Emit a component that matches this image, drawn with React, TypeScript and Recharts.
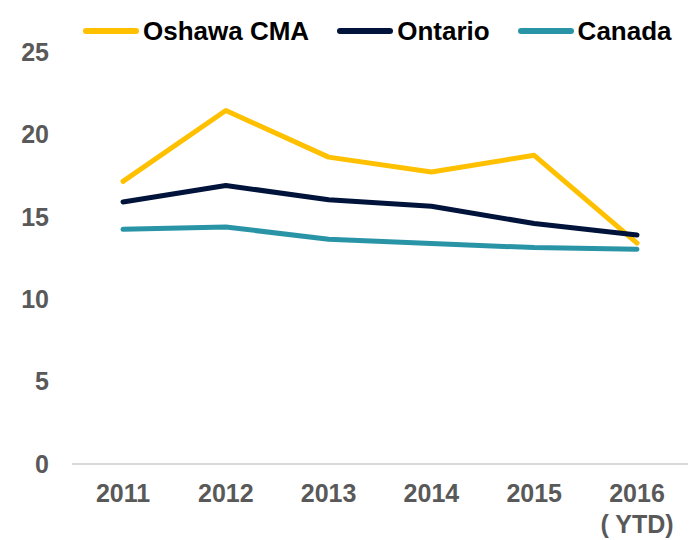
import React from "react";
import { LineChart, Line, XAxis, YAxis, Legend } from "recharts";

// ---------------------------------------------------------------------------
// Rate comparison — Oshawa CMA vs Ontario vs Canada, 2011 to 2016 YTD
// ---------------------------------------------------------------------------

const YEARS = ["2011", "2012", "2013", "2014", "2015", "2016\n( YTD)"];
const OSHAWA = [17.15, 21.45, 18.62, 17.72, 18.73, 13.4];
const ONTARIO = [15.9, 16.9, 16.04, 15.64, 14.59, 13.9];
const CANADA = [14.24, 14.38, 13.64, 13.38, 13.13, 13.03];
const Y_TICKS = [0, 5, 10, 15, 20, 25];

const SERIES = [
  { key: "oshawa", label: "Oshawa CMA", color: "#FFC000" },
  { key: "ontario", label: "Ontario", color: "#00133A" },
  { key: "canada", label: "Canada", color: "#2A94A7" },
];

const FONT = '"Liberation Sans", Arial, sans-serif';
const TICK_GREY = "#595959";

const data = YEARS.map((year, i) => ({
  year,
  oshawa: OSHAWA[i],
  ontario: ONTARIO[i],
  canada: CANADA[i],
}));

function YearTick(props: any) {
  const { x, y, payload } = props;
  const lines = String(payload.value).split("\n");
  return (
    <text
      x={x}
      y={y}
      textAnchor="middle"
      fill={TICK_GREY}
      fontFamily={FONT}
      fontWeight="bold"
      fontSize={25}
    >
      {lines.map((line, i) => (
        <tspan key={i} x={x} dy={i === 0 ? "0.71em" : 31}>
          {line}
        </tspan>
      ))}
    </text>
  );
}

function ChartLegend() {
  return (
    <div
      style={{
        display: "flex",
        alignItems: "center",
        height: 42,
        paddingLeft: 83,
        fontFamily: FONT,
        fontWeight: "bold",
        fontSize: 26,
        color: "#000",
      }}
    >
      {SERIES.map((s, i) => (
        <div
          key={s.key}
          style={{
            display: "flex",
            alignItems: "center",
            marginLeft: i === 0 ? 0 : 28,
          }}
        >
          <span
            style={{
              display: "inline-block",
              width: 56,
              height: 6,
              borderRadius: 3,
              background: s.color,
              marginRight: 4,
            }}
          />
          <span style={{ lineHeight: "30px" }}>{s.label}</span>
        </div>
      ))}
    </div>
  );
}

export default function App() {
  return (
    <div style={{ position: "absolute", left: 0, top: 0, width: 693, height: 540, background: "#fff" }}>
      <LineChart
        width={693}
        height={540}
        data={data}
        margin={{ top: 10, right: 5, bottom: 6, left: 0 }}
      >
        <Legend verticalAlign="top" align="left" height={42} content={() => <ChartLegend />} />
        <XAxis
          dataKey="year"
          interval={0}
          height={70}
          padding={{ left: 51, right: 51 }}
          tickSize={0}
          tickMargin={20}
          axisLine={{ stroke: "#D9D9D9", strokeWidth: 2 }}
          tickLine={false}
          tick={<YearTick />}
        />
        <YAxis
          domain={[0, 25]}
          ticks={Y_TICKS}
          width={72}
          tickSize={0}
          tickMargin={23}
          axisLine={false}
          tickLine={false}
          tick={{ fill: TICK_GREY, fontFamily: FONT, fontWeight: "bold", fontSize: 25 }}
        />
        {SERIES.map((s) => (
          <Line
            key={s.key}
            dataKey={s.key}
            name={s.label}
            type="linear"
            stroke={s.color}
            strokeWidth={5}
            strokeLinecap="round"
            strokeLinejoin="round"
            dot={false}
            activeDot={false}
            isAnimationActive={false}
          />
        ))}
      </LineChart>
    </div>
  );
}
